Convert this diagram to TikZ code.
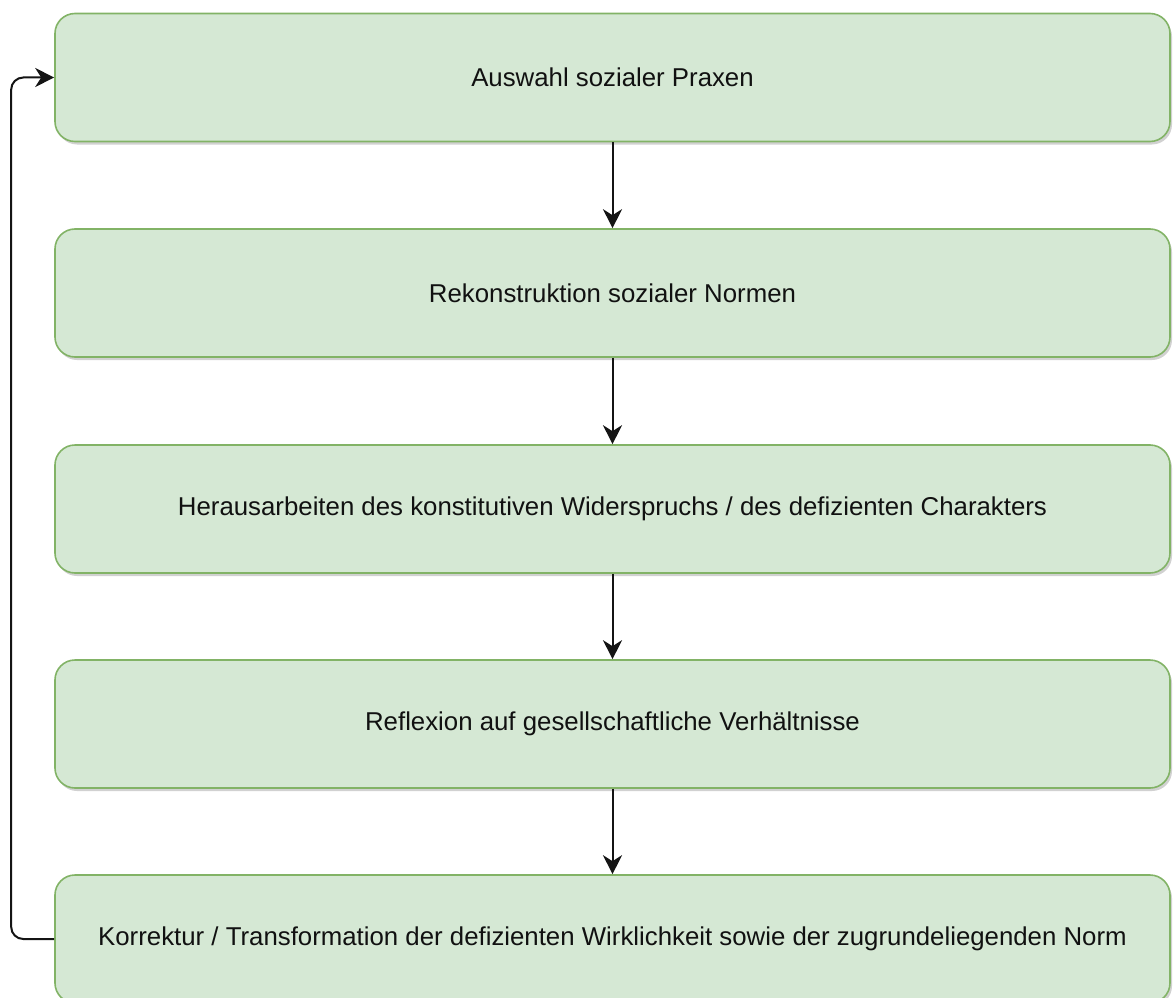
\documentclass[tikz,border=0pt]{standalone}
\usepackage{fontspec}
\setmainfont{Liberation Sans}
\usetikzlibrary{arrows.meta,shadows}
\definecolor{boxfill}{HTML}{D5E8D4}
\definecolor{boxline}{HTML}{82B366}
\definecolor{txt}{HTML}{111111}
\begin{document}
\begin{tikzpicture}[x=1pt,y=-1pt,
  stepbox/.style={draw=boxline, fill=boxfill, line width=1.6pt, rounded corners=20pt,
    minimum width=1115pt, minimum height=128pt, inner sep=0pt, text=txt,
    font=\fontsize{25.8}{30}\selectfont,
    drop shadow={shadow xshift=2pt, shadow yshift=-3pt, opacity=0.18, fill=black}},
  flow/.style={draw=black!92, line width=2pt, -{Stealth[length=19pt,width=19pt,inset=6pt]}}]
  \useasboundingbox (0,0) rectangle (1173,998);
  \begin{scope}
    \clip (0,0) rectangle (1173,998);
    \node[stepbox] (s1) at (612.5,77.5) {Auswahl sozialer Praxen};
    \node[stepbox] (s2) at (612.5,293) {Rekonstruktion sozialer Normen};
    \node[stepbox] (s3) at (612.5,509) {Herausarbeiten des konstitutiven Widerspruchs / des defizienten Charakters};
    \node[stepbox] (s4) at (612.5,724) {Reflexion auf gesellschaftliche Verhältnisse};
    \node[stepbox] (s5) at (612.5,939) {Korrektur / Transformation der defizienten Wirklichkeit sowie der zugrundeliegenden Norm};
    \draw[flow] (s1) -- (s2);
    \draw[flow] (s2) -- (s3);
    \draw[flow] (s3) -- (s4);
    \draw[flow] (s4) -- (s5);
    \draw[flow, rounded corners=12pt] (s5.west) -- ++(-43,0) |- (s1.west);
  \end{scope}
\end{tikzpicture}
\end{document}
